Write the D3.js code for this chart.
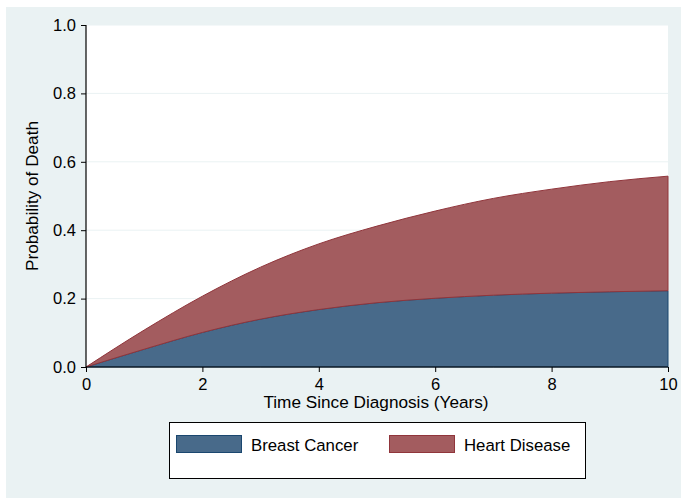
<!DOCTYPE html>
<html>
<head>
<meta charset="utf-8">
<script src="https://cdn.jsdelivr.net/npm/d3@7"></script>
<style>
  html, body { margin: 0; padding: 0; background: #ffffff; }
  svg { display: block; }
  text { font-family: "Liberation Sans", Arial, sans-serif; fill: #000; }
</style>
</head>
<body>
<script>
// ---- data ----
const years = [0, 1, 2, 3, 4, 5, 6, 7, 8, 9, 10];
const breastCancer = [0, 0.052, 0.101, 0.140, 0.168, 0.188, 0.201, 0.210, 0.216, 0.220, 0.223];
const heartDisease = [0, 0.056, 0.106, 0.152, 0.192, 0.224, 0.255, 0.283, 0.304, 0.322, 0.335];
const seriesNames = ["Breast Cancer", "Heart Disease"];
const yTicks = [0, 0.2, 0.4, 0.6, 0.8, 1.0];
const xTicks = [0, 2, 4, 6, 8, 10];

(function () {
const W = 681, H = 498;
const fills = ["#486a8a", "#a35c5f"];
const strokes = ["#1a476f", "#90353b"];

const svg = d3.select("body").append("svg").attr("width", W).attr("height", H);
svg.append("rect").attr("x", 6).attr("y", 7).attr("width", W - 6).attr("height", H - 7).attr("fill", "#eaf2f3");

const pL = 86, pR = 668, pT = 25, pB = 367;
svg.append("rect").attr("x", pL).attr("y", pT).attr("width", pR - pL).attr("height", pB - pT).attr("fill", "#ffffff");

const x = d3.scaleLinear().domain([0, 10]).range([pL, pR]);
const y = d3.scaleLinear().domain([0, 1]).range([pB, pT]);

// gridlines
svg.append("g").selectAll("line").data(yTicks.filter(t => t > 0)).join("line")
  .attr("x1", pL).attr("x2", pR).attr("y1", d => y(d)).attr("y2", d => y(d))
  .attr("stroke", "#eaf2f3").attr("stroke-width", 1);

const rows = years.map((t, i) => ({ t, "Breast Cancer": breastCancer[i], "Heart Disease": heartDisease[i] }));
const stacked = d3.stack().keys(seriesNames)(rows);

const area = d3.area().curve(d3.curveMonotoneX)
  .x(d => x(d.data.t)).y0(d => y(d[0])).y1(d => y(d[1]));

svg.append("g").selectAll("path").data(stacked).join("path")
  .attr("d", area)
  .attr("fill", (d, i) => fills[i])
  .attr("stroke", (d, i) => strokes[i])
  .attr("stroke-width", 1);

// axes
const yAxis = d3.axisLeft(y).tickValues(yTicks).tickFormat(d3.format(".1f")).tickSize(5).tickPadding(5);
const gy = svg.append("g").attr("transform", `translate(${pL},0)`).call(yAxis);
const xAxis = d3.axisBottom(x).tickValues(xTicks).tickFormat(d3.format("d")).tickSize(5).tickPadding(6);
const gx = svg.append("g").attr("transform", `translate(0,${pB})`).call(xAxis);
[gx, gy].forEach(g => {
  g.select(".domain").attr("stroke", "#000").attr("stroke-width", 1.2);
  g.selectAll(".tick line").attr("stroke", "#000");
  g.selectAll("text").attr("font-size", 16.5).attr("font-family", "Liberation Sans, Arial, sans-serif").attr("fill", "#000");
});
gx.select(".domain").attr("d", `M${pL},0H${pR}`);
gy.select(".domain").attr("d", `M0,${pB}V${pT}`);

// titles
svg.append("text").attr("x", (pL + pR) / 2 - 1).attr("y", 408).attr("text-anchor", "middle")
  .attr("font-size", 17.2).text("Time Since Diagnosis (Years)");
svg.append("text").attr("transform", `translate(38,${(pT + pB) / 2}) rotate(-90)`)
  .attr("text-anchor", "middle").attr("font-size", 17.2).text("Probability of Death");

// legend
const lg = svg.append("g");
lg.append("rect").attr("x", 169.5).attr("y", 422.5).attr("width", 416).attr("height", 56)
  .attr("fill", "#fff").attr("stroke", "#000").attr("stroke-width", 1);
const lx = [176, 389];
seriesNames.forEach((name, i) => {
  lg.append("rect").attr("x", lx[i] + 0.5).attr("y", 435.5).attr("width", 65).attr("height", 17)
    .attr("fill", fills[i]).attr("stroke", strokes[i]).attr("stroke-width", 1);
  lg.append("text").attr("x", lx[i] + 75).attr("y", 450.5).attr("font-size", 16.8).text(name);
});
})();
</script>
</body>
</html>
